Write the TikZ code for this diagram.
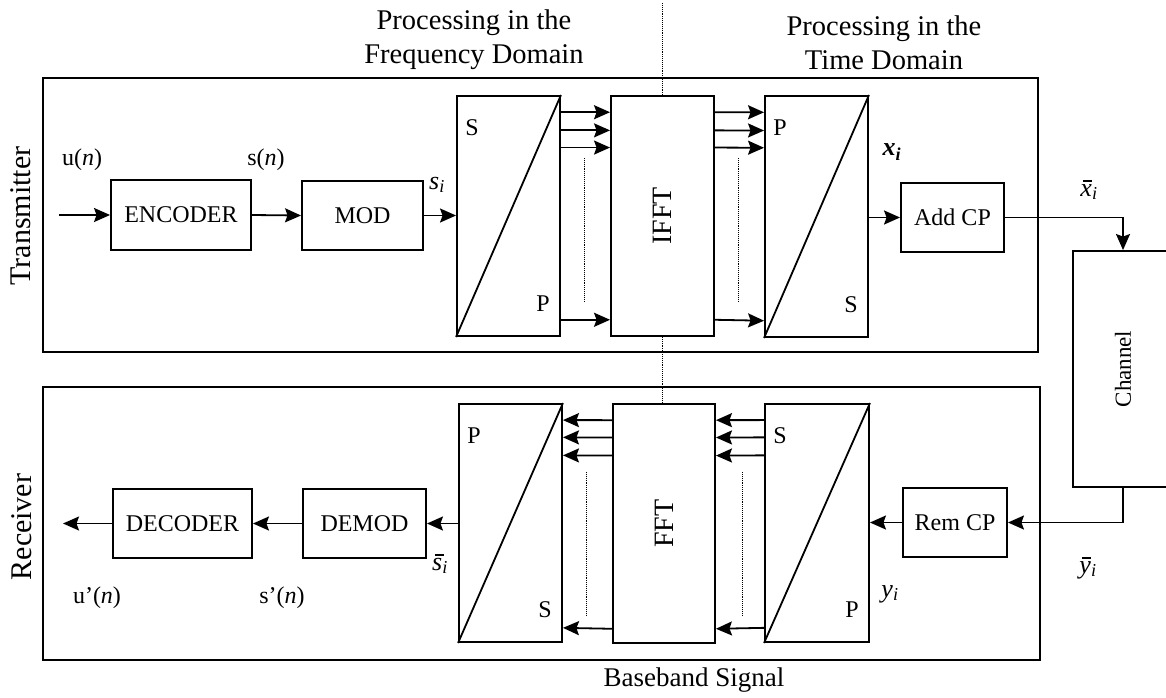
\documentclass[tikz,border=0pt]{standalone}
\usepackage{fontspec}
\setmainfont{Liberation Serif}
\usepackage{graphicx}
\usetikzlibrary{arrows.meta,calc}
\newcommand{\barred}[1]{\makebox[0pt][l]{\hspace{0.1em}\rule[0.56em]{0.36em}{0.05em}}\textit{#1}}
\begin{document}
\begin{tikzpicture}[x=1pt,y=-1pt,
  blk/.style={draw, line width=1.9pt, inner sep=0pt, font=\fontsize{24}{28}\selectfont},
  frm/.style={draw, line width=1.3pt, inner sep=0pt},
  arr/.style={line width=1.8pt, -{Stealth[length=16pt,width=14pt,inset=2.5pt]}},
  lbl/.style={font=\fontsize{24}{28}\selectfont, inner sep=0pt},
  sig/.style={font=\fontsize{26}{30}\selectfont, inner sep=0pt},
  side/.style={font=\fontsize{30}{32}\selectfont, inner sep=0pt, rotate=90},
  head/.style={font=\fontsize{28.5}{34}\selectfont, align=center, inner sep=0pt},
  dots/.style={line width=0.9pt, densely dotted},
  diag/.style={line width=1.8pt}]
\useasboundingbox (0,0) rectangle (1166,697);
\clip (0,0) rectangle (1166,697);

% frames
\node[frm, minimum width=995pt, minimum height=274pt] (txf) at (540.5,215) {};
\node[frm, minimum width=997pt, minimum height=273pt] (rxf) at (541.5,523.5) {};

% headers
\node[head] (hfreq) at (474,40) {Processing in the\\Frequency Domain};
\node[head] (htime) at (884,43) {Processing in the\\Time Domain};
\node[lbl, font=\fontsize{27}{30}\selectfont, anchor=base] (hbase) at (694,686) {Baseband Signal};
\node[side] (ltx) at (21,216) {Transmitter};
\node[side] (lrx) at (22,527) {Receiver};

% transmitter blocks
\node[blk, minimum width=140pt, minimum height=70pt] (enc) at (181,215) {ENCODER};
\node[blk, minimum width=121pt, minimum height=69pt] (mod) at (362.5,215.5) {MOD};
\node[blk, minimum width=103pt, minimum height=240pt] (sp1) at (508.5,216) {};
\node[blk, minimum width=103pt, minimum height=240pt, font=\fontsize{28}{30}\selectfont] (ifft) at (662.5,216) {\rotatebox{90}{IFFT}};
\node[blk, minimum width=103pt, minimum height=241pt] (ps1) at (816.5,216.5) {};
\node[blk, minimum width=103pt, minimum height=69pt] (addcp) at (952.5,217.5) {Add CP};

% channel
\node[blk, minimum width=100pt, minimum height=236pt, font=\fontsize{23}{26}\selectfont] (chan) at (1123,369) {\rotatebox{90}{Channel}};

% receiver blocks
\node[blk, minimum width=104pt, minimum height=69pt] (remcp) at (955,522.5) {Rem CP};
\node[blk, minimum width=104pt, minimum height=238pt] (sp2) at (817,523) {};
\node[blk, minimum width=102pt, minimum height=239pt, font=\fontsize{28}{30}\selectfont] (fft) at (664,523.5) {\rotatebox{90}{FFT}};
\node[blk, minimum width=103pt, minimum height=238pt] (ps2) at (510.5,523) {};
\node[blk, minimum width=123pt, minimum height=69pt] (demod) at (364.5,523.5) {DEMOD};
\node[blk, minimum width=139pt, minimum height=69pt] (dec) at (182.5,523.5) {DECODER};

% diagonals and S/P letters
\foreach \b/\ta/\tb in {sp1/S/P, ps1/P/S, sp2/S/P, ps2/P/S}{
  \draw[diag] (\b.south west) -- (\b.north east);
  \node[lbl] at ($(\b.north west)+(16,33)$) {\ta};
  \node[lbl] at ($(\b.south east)+(-18,-33)$) {\tb};
}

% central dotted line
\coordinate (ctop) at (662.5,3);
\draw[dots] (ctop) -- (ifft.north);
\draw[dots] (ifft.south) -- (ifft.south |- fft.north);

% transmitter connectors
\coordinate (uin) at (59,215);
\draw[arr] (uin) -- (enc.west);
\draw[arr] (enc.east) -- (mod.west);
\draw[arr] (mod.east) -- (sp1.west |- mod.east);
\foreach \f in {0.071,0.146,0.217,0.929}{
  \draw[arr] ($(sp1.north east)!\f!(sp1.south east)$) -- ($(ifft.north west)!\f!(ifft.south west)$);
  \draw[arr] ($(ifft.north east)!\f!(ifft.south east)$) -- ($(ps1.north west)!\f!(ps1.south west)$);
}
\draw[dots] (584,158) -- (584,302);
\draw[dots] (738,158) -- (738,302);
\draw[arr] (ps1.east |- addcp.west) -- (addcp.west);
\draw[arr] (addcp.east) -| (chan.north);

% receiver connectors
\draw[arr] (chan.south) |- (remcp.east);
\draw[arr] (remcp.west) -- (sp2.east |- remcp.west);
\foreach \f in {0.071,0.143,0.218,0.937}{
  \draw[arr] ($(sp2.north west)!\f!(sp2.south west)$) -- ($(fft.north east)!\f!(fft.south east)$);
  \draw[arr] ($(fft.north west)!\f!(fft.south west)$) -- ($(ps2.north east)!\f!(ps2.south east)$);
}
\draw[dots] (586,472) -- (586,615);
\draw[dots] (742,472) -- (742,615);
\draw[arr] (ps2.west |- demod.east) -- (demod.east);
\draw[arr] (demod.west) -- (dec.east);
\coordinate (uout) at (63,523.5);
\draw[arr] (dec.west) -- (uout);

% signal labels
\node[lbl] (lun) at (82,160) {u(\textit{n})};
\node[lbl] (lsn) at (266,160) {s(\textit{n})};
\node[sig] (lsi) at (437,185) {\textit{s}\textsubscript{\textit{i}}};
\node[sig] (lxi) at (892,152) {\textit{\textbf{x}}\textsubscript{\textit{\textbf{i}}}};
\node[sig] (lxb) at (1089,190) {\barred{x}\textsubscript{\textit{i}}};
\node[sig] (lyb) at (1088,568) {\barred{y}\textsubscript{\textit{i}}};
\node[sig] (lyi) at (890,594) {\textit{y}\textsubscript{\textit{i}}};
\node[sig] (lsb) at (440,564) {\barred{s}\textsubscript{\textit{i}}};
\node[lbl] (lup) at (97,598) {u’(\textit{n})};
\node[lbl] (lsp) at (282,598) {s’(\textit{n})};
\end{tikzpicture}
\end{document}
